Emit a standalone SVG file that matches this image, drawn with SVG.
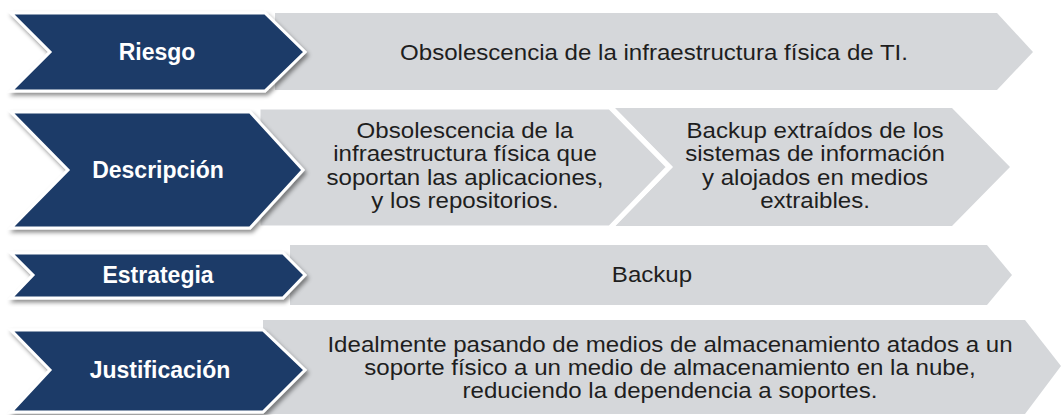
<svg xmlns="http://www.w3.org/2000/svg" width="1062" height="415" viewBox="0 0 1062 415">
<defs>
<filter id="sh" x="-5%" y="-10%" width="115%" height="130%">
<feDropShadow dx="2" dy="3" stdDeviation="2" flood-color="#000" flood-opacity="0.45"/>
</filter>
</defs>
<style>
.gray{fill:#d5d7da;}
.gap{fill:#d5d7da;stroke:#ffffff;stroke-width:5;stroke-linejoin:miter;}
.blue{fill:#1b3a67;stroke:#ffffff;stroke-width:3;stroke-linejoin:miter;filter:url(#sh);}
.lab{font-family:"Liberation Sans",Arial,sans-serif;font-weight:bold;font-size:23px;fill:#ffffff;text-anchor:middle;}
.txt{font-family:"Liberation Sans",Arial,sans-serif;font-size:22.5px;fill:#1e1e1e;text-anchor:middle;}
</style>
<g id="row1-content">
<polygon class="gray" points="275,13 997,13 1033,52 997,90 275,90"/>
<g transform="translate(654,0) scale(1.07,1)">
<text class="txt" x="0" y="60">Obsolescencia de la infraestructura física de TI.</text>
</g>
</g>
<g id="row1-label">
<polygon class="blue" points="11,13 265,13 305,52 265,91 11,91 50,52"/>
<text class="lab" x="157" y="60">Riesgo</text>
</g>
<g id="row2-content2">
<polygon class="gray" points="615,108 952,108 1010,167 952,226 615,226 673,167"/>
<g transform="translate(815,0) scale(1.07,1)">
<text class="txt" x="0" y="138">Backup extraídos de los</text>
<text class="txt" x="0" y="161">sistemas de información</text>
<text class="txt" x="0" y="185">y alojados en medios</text>
<text class="txt" x="0" y="208">extraibles.</text>
</g>
</g>
<g id="row2-content1">
<polygon class="gap" points="258,107 610,107 669,167 610,228 258,228"/>
<g transform="translate(465,0) scale(1.07,1)">
<text class="txt" x="0" y="138">Obsolescencia de la</text>
<text class="txt" x="0" y="161">infraestructura física que</text>
<text class="txt" x="0" y="185">soportan las aplicaciones,</text>
<text class="txt" x="0" y="208">y los repositorios.</text>
</g>
</g>
<g id="row2-label">
<polygon class="blue" points="11,112 250,112 303,170 250,228 11,228 68,170"/>
<text class="lab" x="158" y="178">Descripción</text>
</g>
<g id="row3-content">
<polygon class="gray" points="290,245 987,245 1012,275 987,305 290,305"/>
<g transform="translate(652,0) scale(1.07,1)">
<text class="txt" x="0" y="282">Backup</text>
</g>
</g>
<g id="row3-label">
<polygon class="blue" points="11,253 283,253 305,275 283,298 11,298 33,275"/>
<text class="lab" x="158" y="283">Estrategia</text>
</g>
<g id="row4-content">
<polygon class="gray" points="263,320 1025,320 1061,366 1025,414 263,414"/>
<g transform="translate(670,0) scale(1.07,1)">
<text class="txt" x="0" y="352">Idealmente pasando de medios de almacenamiento atados a un</text>
<text class="txt" x="0" y="375">soporte físico a un medio de almacenamiento en la nube,</text>
<text class="txt" x="0" y="398">reduciendo la dependencia a soportes.</text>
</g>
</g>
<g id="row4-label">
<polygon class="blue" points="11,330 263,330 305,370 263,412 11,412 50,370"/>
<text class="lab" x="160" y="378">Justificación</text>
</g>
<g id="connectors"></g>
</svg>
